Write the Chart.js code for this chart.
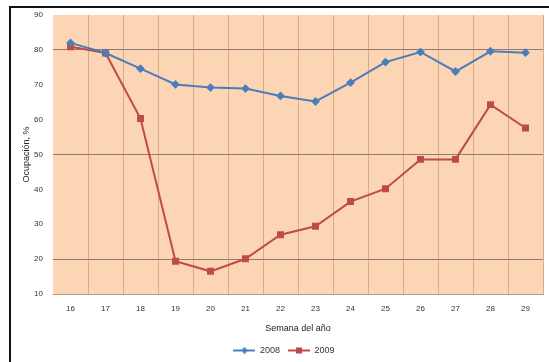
<!DOCTYPE html>
<html>
<head>
<meta charset="utf-8">
<script src="https://cdn.jsdelivr.net/npm/chart.js@4/dist/chart.umd.min.js"></script>
<style>
  html, body { margin: 0; padding: 0; background: #fff; }
  #wrap { position: relative; width: 549px; height: 362px; overflow: hidden; }
  #frame { position: absolute; left: 9px; top: 6px; width: 600px; height: 400px;
           border-left: 2px solid #111; border-top: 2px solid #111; }
  canvas { position: absolute; left: 0; top: 0; }
</style>
</head>
<body>
<div id="wrap">
  <div id="frame"></div>
  <canvas id="c" width="549" height="365"></canvas>
</div>
<script>
// Semanas del año y ocupación (%) por temporada
const weeks = ['16', '17', '18', '19', '20', '21', '22', '23', '24', '25', '26', '27', '28', '29'];
const occ2008 = [82.0, 79.1, 74.6, 70.1, 69.2, 68.9, 66.8, 65.2, 70.6, 76.5, 79.4, 73.8, 79.6, 79.2];
const occ2009 = [80.9, 79.1, 60.3, 19.4, 16.5, 20.1, 27.0, 29.4, 36.5, 40.2, 48.6, 48.6, 64.3, 57.6];
const seriesLabels = ['2008', '2009'];
const yMin = 10, yMax = 90, yStep = 10;
const strongLines = [20, 50, 80];

const BLUE = '#4a7ebb';
const RED = '#be4b48';
const FONT = "'Liberation Sans', Arial, sans-serif";
const CANVAS_H = 365;
const PLOT_BOTTOM = 294;

// Legend icon: short line with the series marker in the middle
function legendIcon(color, shape) {
  const c = document.createElement('canvas');
  c.width = 22; c.height = 8;
  const g = c.getContext('2d');
  g.strokeStyle = color; g.lineWidth = 2;
  g.beginPath(); g.moveTo(0, 4); g.lineTo(22, 4); g.stroke();
  g.fillStyle = color;
  if (shape === 'rect') {
    g.fillRect(8, 1, 6, 6);
  } else {
    g.beginPath(); g.moveTo(11, 0.5); g.lineTo(14.5, 4); g.lineTo(11, 7.5); g.lineTo(7.5, 4); g.closePath(); g.fill();
  }
  return c;
}
const icons = [legendIcon(BLUE, 'diamond'), legendIcon(RED, 'rect')];

const plotBackground = {
  id: 'plotBackground',
  beforeDraw(chart) {
    const a = chart.chartArea, ctx = chart.ctx;
    ctx.save();
    ctx.fillStyle = '#fcd5b4';
    ctx.fillRect(a.left, a.top, a.right - a.left, a.bottom - a.top);
    ctx.restore();
  }
};

new Chart(document.getElementById('c'), {
  type: 'line',
  data: {
    labels: weeks,
    datasets: [
      { label: seriesLabels[0], data: occ2008, borderColor: BLUE, backgroundColor: BLUE,
        borderWidth: 2, pointStyle: 'rectRot', pointRadius: 3, tension: 0 },
      { label: seriesLabels[1], data: occ2009, borderColor: RED, backgroundColor: RED,
        borderWidth: 2, pointStyle: 'rect', pointRadius: 3.5, tension: 0 }
    ]
  },
  options: {
    responsive: false,
    animation: false,
    devicePixelRatio: 1,
    layout: { padding: { left: 21, right: 2, top: 15, bottom: 0 } },
    plugins: {
      tooltip: { enabled: false },
      legend: {
        position: 'bottom',
        labels: {
          usePointStyle: true,
          pointStyleWidth: 22,
          padding: 8,
          color: '#333',
          font: { family: FONT, size: 9 },
          generateLabels: (chart) => chart.data.datasets.map((ds, i) => ({
            text: ds.label, pointStyle: icons[i], fillStyle: ds.borderColor,
            strokeStyle: ds.borderColor, lineWidth: 0, hidden: false,
            datasetIndex: i, fontColor: '#333'
          }))
        }
      }
    },
    scales: {
      x: {
        offset: true,
        grid: {
          offset: true,
          drawTicks: false,
          color: (ctx) => ctx.index === 0 ? 'rgba(0,0,0,0)' : '#d6ad88',
          lineWidth: 1
        },
        border: { display: true, color: '#c19c7c', width: 1 },
        ticks: { padding: 10, color: '#333', font: { family: FONT, size: 8 }, maxRotation: 0 },
        title: { display: true, text: 'Semana del año', color: '#222',
                 font: { family: FONT, size: 9 }, padding: { top: 4, bottom: 4 } },
        afterFit: (scale) => {
          const legendH = scale.chart.legend ? scale.chart.legend.height : 20;
          scale.height = CANVAS_H - legendH - PLOT_BOTTOM;
        }
      },
      y: {
        min: yMin, max: yMax,
        grid: {
          drawTicks: false,
          color: (ctx) => strongLines.includes(ctx.tick.value) ? '#8e7a77' : 'rgba(0,0,0,0)',
          lineWidth: 1
        },
        border: { display: false },
        ticks: { stepSize: yStep, padding: 10, color: '#333', font: { family: FONT, size: 8 } },
        title: { display: true, text: 'Ocupación, %', color: '#222',
                 font: { family: FONT, size: 9 }, padding: { top: 0, bottom: 2 } },
        afterFit: (scale) => { scale.width = 32; }
      }
    }
  },
  plugins: [plotBackground]
});
</script>
</body>
</html>
